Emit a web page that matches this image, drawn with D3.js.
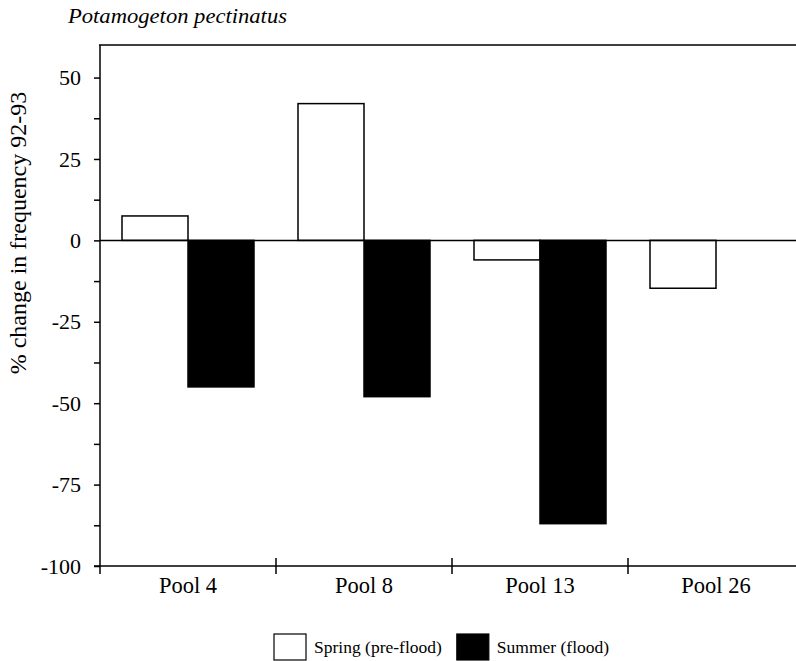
<html>
<script src="https://d3js.org/d3.v7.min.js"></script>
<body style="margin:0;background:#fff"></body>
<script>
// values
const pools = ['Pool 4', 'Pool 8', 'Pool 13', 'Pool 26'];
const seriesNames = ['Spring (pre-flood)', 'Summer (flood)'];
const spring = [7.5, 42, -6, -14.7];
const summer = [-45, -48, -87, null];
const yTicks = [50, 25, 0, -25, -50, -75, -100];

const width = 796;
const height = 661;
const plotLeft = 100, plotTop = 45, plotRight = 796, plotBottom = 566;
const font = '"Liberation Serif", "Times New Roman", serif';

const svg = d3.select('body').append('svg')
  .attr('width', width)
  .attr('height', height)
  .style('font-family', font);

const y = d3.scaleLinear().domain([-100, 60]).range([plotBottom, plotTop]);
const x0 = d3.scaleBand().domain(pools).range([plotLeft, plotLeft + 176 * 4]);
const x1 = d3.scaleBand().domain(seriesNames).range([22, x0.bandwidth() - 22]);
const colour = d3.scaleOrdinal().domain(seriesNames).range(['#fff', '#000']);

const rows = pools.map((p, i) => ({pool: p, vals: [
  {s: seriesNames[0], v: spring[i]},
  {s: seriesNames[1], v: summer[i]}
]}));

// title
svg.append('text')
  .attr('x', 68).attr('y', 23)
  .style('font-style', 'italic')
  .style('font-size', '21px')
  .attr('textLength', 219)
  .attr('lengthAdjust', 'spacingAndGlyphs')
  .text('Potamogeton pectinatus');

// top frame line
svg.append('line')
  .attr('x1', plotLeft - 1).attr('x2', plotRight)
  .attr('y1', plotTop).attr('y2', plotTop)
  .attr('stroke', '#000').attr('stroke-width', 1.5);

// bars
svg.append('g').selectAll('g')
  .data(rows)
  .join('g')
  .attr('transform', d => `translate(${x0(d.pool)},0)`)
  .selectAll('rect')
  .data(d => d.vals.filter(e => e.v !== null))
  .join('rect')
  .attr('x', d => x1(d.s))
  .attr('width', x1.bandwidth())
  .attr('y', d => y(Math.max(0, d.v)))
  .attr('height', d => Math.abs(y(d.v) - y(0)))
  .attr('fill', d => colour(d.s))
  .attr('stroke', '#000')
  .attr('stroke-width', 1.5);

// zero line
svg.append('line')
  .attr('x1', plotLeft).attr('x2', plotRight)
  .attr('y1', y(0)).attr('y2', y(0))
  .attr('stroke', '#000').attr('stroke-width', 1.5);

// y axis, major + minor ticks
const yAxis = svg.append('g')
  .attr('transform', `translate(${plotLeft},0)`)
  .call(d3.axisLeft(y).tickValues(d3.range(-100, 60, 12.5)).tickSize(6).tickFormat(''))
  .call(g => g.select('.domain').attr('d', `M0,${plotTop}V${plotBottom + 8}`));
yAxis.selectAll('line, path').attr('stroke', '#000').attr('stroke-width', 1.5);

svg.append('g')
  .selectAll('text')
  .data(yTicks)
  .join('text')
  .attr('x', 81)
  .attr('y', d => y(d))
  .attr('dy', '0.35em')
  .attr('text-anchor', 'end')
  .style('font-size', '22px')
  .text(d => d);

// x axis
const xAxis = svg.append('g')
  .attr('transform', `translate(0,${plotBottom})`)
  .call(d3.axisBottom(x0).tickSize(0).tickPadding(11))
  .call(g => g.select('.domain').attr('d', `M${plotLeft - 6},0H${plotRight}`));
xAxis.select('.domain').attr('stroke', '#000').attr('stroke-width', 1.5);
xAxis.selectAll('text')
  .style('font-family', font)
  .style('font-size', '22.5px')
  .attr('fill', '#000');
xAxis.selectAll('.sep')
  .data(pools.slice(1))
  .join('line')
  .attr('class', 'sep')
  .attr('x1', d => x0(d)).attr('x2', d => x0(d))
  .attr('y1', -8).attr('y2', 8)
  .attr('stroke', '#000').attr('stroke-width', 1.5);

// y axis label
svg.append('text')
  .attr('transform', 'translate(26,233) rotate(-90)')
  .attr('text-anchor', 'middle')
  .style('font-size', '24px')
  .text('% change in frequency 92-93');

// legend
const legend = svg.append('g').attr('transform', 'translate(274,634)');
let lx = 0;
seriesNames.forEach(s => {
  legend.append('rect')
    .attr('x', lx).attr('y', 0)
    .attr('width', 32).attr('height', 26)
    .attr('fill', colour(s))
    .attr('stroke', '#000').attr('stroke-width', 1.2);
  const t = legend.append('text')
    .attr('x', lx + 40).attr('y', 19)
    .style('font-size', '17.5px')
    .text(s);
  lx += 40 + t.node().getComputedTextLength() + 15;
});
</script>
</html>
